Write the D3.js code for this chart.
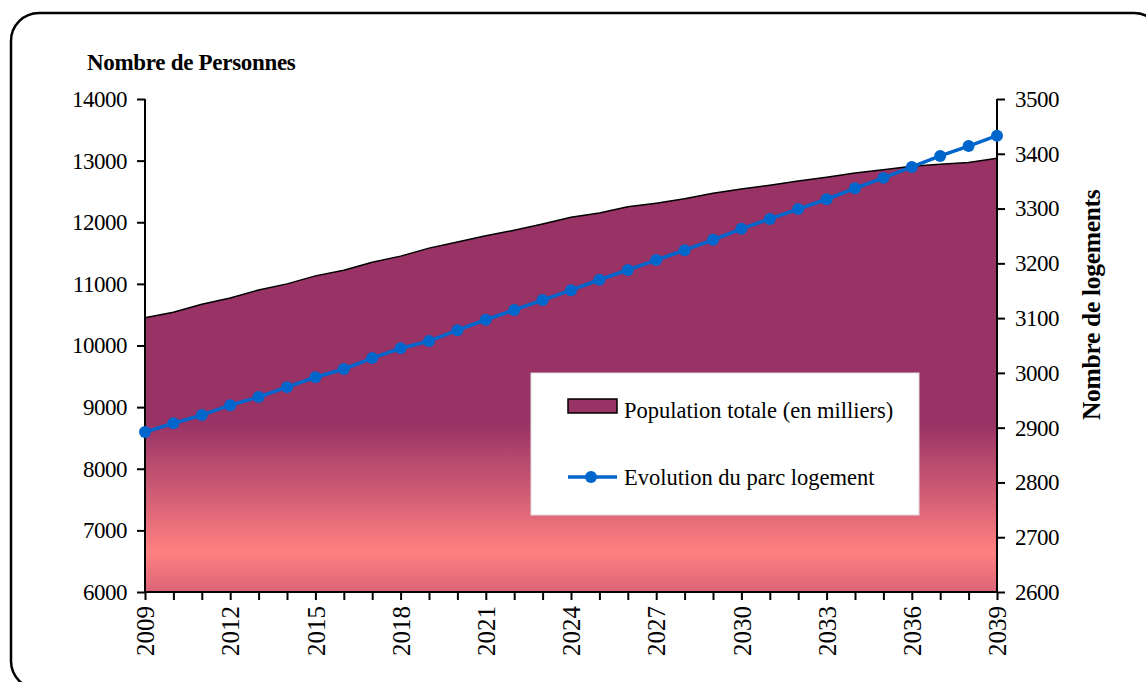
<!DOCTYPE html>
<html>
<head>
<meta charset="utf-8">
<script src="https://cdn.jsdelivr.net/npm/d3@7.9.0/dist/d3.min.js"></script>
<style>
  body { margin: 0; background: #fff; overflow: hidden; }
  svg text { font-family: "Liberation Serif", "DejaVu Serif", serif; fill: #000; }
</style>
</head>
<body>
<svg id="chart" width="1146" height="682"></svg>
<script>
const years = d3.range(2009, 2040);
const population = [10450, 10540, 10670, 10770, 10900, 11000, 11130, 11220, 11350, 11450,
  11580, 11680, 11780, 11870, 11970, 12080, 12150, 12250, 12310, 12380,
  12470, 12540, 12600, 12670, 12730, 12800, 12850, 12910, 12940, 12970, 13040];
const logements = [2892, 2908, 2923, 2941, 2956, 2974, 2992, 3007, 3027, 3045,
  3058, 3078, 3097, 3115, 3133, 3151, 3170, 3188, 3206, 3224,
  3243, 3263, 3281, 3299, 3317, 3337, 3356, 3376, 3396, 3414, 3433];
const leftTicks = [6000, 7000, 8000, 9000, 10000, 11000, 12000, 13000, 14000];
const rightTicks = [2600, 2700, 2800, 2900, 3000, 3100, 3200, 3300, 3400, 3500];
const yearLabels = years.filter(y => (y - 2009) % 3 === 0);

const svg = d3.select('#chart');
const plotL = 145, plotR = 997, plotT = 99, plotB = 592;

// frame (runs off the right and bottom edges, like the reference)
svg.append('rect').attr('x', 11).attr('y', 13).attr('width', 1151).attr('height', 676)
  .attr('rx', 28).attr('fill', '#fff').attr('stroke', '#000').attr('stroke-width', 2.5);

const x = d3.scaleLinear().domain([2009, 2039]).range([plotL, plotR]);
const yL = d3.scaleLinear().domain([6000, 14000]).range([plotB, plotT]);
const yR = d3.scaleLinear().domain([2600, 3500]).range([plotB, plotT]);

const defs = svg.append('defs');
const grad = defs.append('linearGradient').attr('id', 'popfill')
  .attr('gradientUnits', 'userSpaceOnUse')
  .attr('x1', 0).attr('x2', 0).attr('y1', plotT).attr('y2', plotB);
grad.append('stop').attr('offset', 0).attr('stop-color', '#993366');
grad.append('stop').attr('offset', 0.66).attr('stop-color', '#993366');
grad.append('stop').attr('offset', 0.92).attr('stop-color', '#FF8080');
grad.append('stop').attr('offset', 1).attr('stop-color', '#DC6478');
defs.append('clipPath').attr('id', 'titleclip')
  .append('rect').attr('x', 1000).attr('y', 187).attr('width', 146).attr('height', 400);

const pts = years.map((yr, i) => ({ yr, pop: population[i], log: logements[i] }));

svg.append('path').datum(pts)
  .attr('d', d3.area().x(d => x(d.yr)).y0(plotB).y1(d => yL(d.pop)))
  .attr('fill', 'url(#popfill)');
svg.append('path').datum(pts)
  .attr('d', d3.line().x(d => x(d.yr)).y(d => yL(d.pop)))
  .attr('fill', 'none').attr('stroke', '#000').attr('stroke-width', 1.5);
svg.append('line').attr('x1', plotR).attr('x2', plotR)
  .attr('y1', yL(population[population.length - 1])).attr('y2', plotB)
  .attr('stroke', '#000').attr('stroke-width', 1);

// axes
const gL = svg.append('g').attr('transform', `translate(${plotL},0)`)
  .call(d3.axisLeft(yL).tickValues(leftTicks).tickSize(8).tickPadding(10).tickFormat(d3.format('d')));
const gR = svg.append('g').attr('transform', `translate(${plotR},0)`)
  .call(d3.axisRight(yR).tickValues(rightTicks).tickSize(8).tickPadding(10).tickFormat(d3.format('d')));
const gX = svg.append('g').attr('transform', `translate(0,${plotB})`)
  .call(d3.axisBottom(x).tickValues(years).tickSize(8).tickFormat(d => yearLabels.includes(d) ? d : ''));

[gL, gR, gX].forEach(g => {
  g.select('.domain').attr('stroke', '#000').attr('stroke-width', 2);
  g.selectAll('.tick line').attr('stroke', '#000').attr('stroke-width', 2);
  g.selectAll('text').attr('font-size', '23px').attr('font-family', '"Liberation Serif", serif');
});
gL.selectAll('.tick text').attr('letter-spacing', '-0.5px');
gR.selectAll('.tick text').attr('letter-spacing', '-0.5px');
gL.select('.domain').attr('d', `M0,${plotT}V${plotB}`);
gR.select('.domain').attr('d', `M0,${plotT}V${plotB}`);
gX.select('.domain').attr('d', `M${plotL},0H${plotR}`);
gX.selectAll('.tick text')
  .attr('font-size', '25px')
  .attr('transform', 'rotate(-90)')
  .attr('text-anchor', 'end')
  .attr('x', -14).attr('y', 0).attr('dy', '0.35em');

// housing line
const blue = '#0066CC';
svg.append('path').datum(pts)
  .attr('d', d3.line().x(d => x(d.yr)).y(d => yR(d.log)))
  .attr('fill', 'none').attr('stroke', blue).attr('stroke-width', 3.5);
svg.selectAll('circle.dot').data(pts).join('circle').attr('class', 'dot')
  .attr('cx', d => x(d.yr)).attr('cy', d => yR(d.log)).attr('r', 6).attr('fill', blue);

// titles
svg.append('text').attr('x', 87).attr('y', 70).attr('font-size', '23px')
  .attr('font-weight', 'bold').attr('letter-spacing', '-0.3px').text('Nombre de Personnes');
svg.append('g').attr('clip-path', 'url(#titleclip)')
  .append('text')
  .attr('transform', 'translate(1100,420) rotate(-90)')
  .attr('text-anchor', 'start').attr('font-size', '25.5px').attr('font-weight', 'bold')
  .attr('letter-spacing', '-0.3px')
  .text('Nombre de logements');

// legend
const lg = svg.append('g');
lg.append('rect').attr('x', 531).attr('y', 373).attr('width', 388).attr('height', 142)
  .attr('fill', '#fff').attr('stroke', '#ddd').attr('stroke-width', 1);
lg.append('rect').attr('x', 568).attr('y', 399).attr('width', 49).attr('height', 14)
  .attr('fill', '#993366').attr('stroke', '#000').attr('stroke-width', 1.5);
lg.append('text').attr('x', 624).attr('y', 418).attr('font-size', '22.5px')
  .text('Population totale (en milliers)');
lg.append('line').attr('x1', 568).attr('x2', 617).attr('y1', 477).attr('y2', 477)
  .attr('stroke', blue).attr('stroke-width', 3.5);
lg.append('circle').attr('cx', 591).attr('cy', 477).attr('r', 6).attr('fill', blue);
lg.append('text').attr('x', 624).attr('y', 485).attr('font-size', '22.5px')
  .text('Evolution du parc logement');
</script>
</body>
</html>
